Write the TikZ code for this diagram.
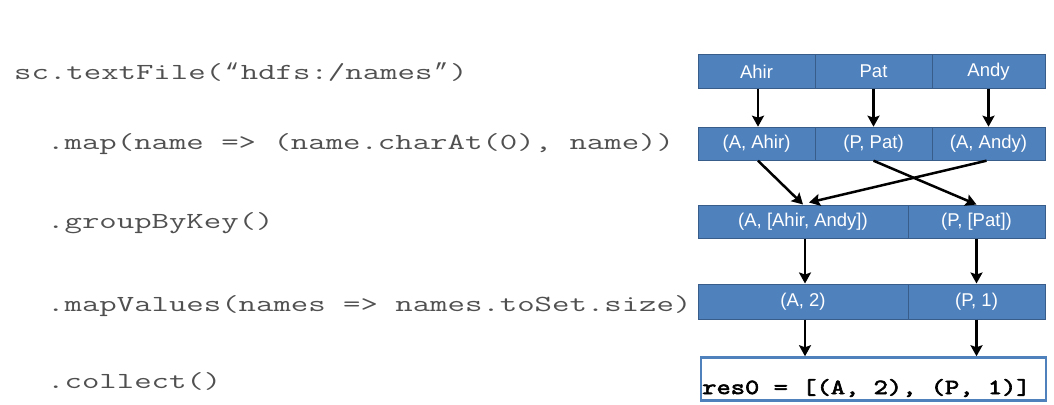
\documentclass[tikz,border=0pt]{standalone}
\usepackage{fontspec}
\setmainfont{Liberation Sans}
\newfontfamily\codefont[FakeStretch=1.47]{Latin Modern Mono}
\newfontfamily\quotefont{Liberation Mono}
\newfontfamily\resfont[FakeStretch=1.29,FakeBold=3]{Latin Modern Mono}
\newcommand{\codeq}[1]{\makebox[17.75pt]{\quotefont #1}}
\usetikzlibrary{arrows.meta}
\definecolor{cellblue}{RGB}{79,129,189}
\definecolor{cellborder}{RGB}{56,93,138}
\definecolor{codegray}{RGB}{80,80,80}
\begin{document}
\begin{tikzpicture}[x=1pt,y=-1pt,
  cell/.style={draw=cellborder,fill=cellblue,line width=1pt,inner sep=0pt,
    minimum height=33pt,text=white,font=\fontsize{18.5}{18.5}\selectfont},
  code/.style={anchor=base west,inner sep=0pt,text=codegray,
    font=\codefont\fontsize{23}{23}\selectfont},
  flow/.style={draw=black,line width=2.5pt,-{Stealth[length=11pt,width=12pt,inset=2pt]}}]
\useasboundingbox[fill=white] (0,0) rectangle (1054,404);

% code lines
\node[code] (t1) at (14,79) {sc.textFile(\codeq{“}hdfs:/names\codeq{”})};
\node[code] (t2) at (47,149) {.map(name => (name.charAt(0), name))};
\node[code] (t3) at (47,228) {.groupByKey()};
\node[code] (t4) at (47,311) {.mapValues(names => names.toSet.size)};
\node[code] (t5) at (47,388) {.collect()};

% row 1
\node[cell,minimum width=117pt] (a1) at (756.5,71.5) {Ahir};
\node[cell,minimum width=117pt] (b1) at (873.5,71.5) {Pat};
\node[cell,minimum width=113pt] (c1) at (988.5,71.5) {Andy};
% row 2
\node[cell,minimum width=117pt] (a2) at (756.5,143.7) {(A, Ahir)};
\node[cell,minimum width=117pt] (b2) at (873.5,143.7) {(P, Pat)};
\node[cell,minimum width=113pt] (c2) at (988.5,143.7) {(A, Andy)};
% row 3
\node[cell,minimum width=210pt] (l3) at (803,221.5) {(A, [Ahir, Andy])};
\node[cell,minimum width=137pt] (r3) at (976.5,221.5) {(P, [Pat])};
% row 4
\node[cell,minimum width=210pt,minimum height=35pt] (l4) at (803,301.5) {(A, 2)};
\node[cell,minimum width=137pt,minimum height=35pt] (r4) at (976.5,301.5) {(P, 1)};
% row 5
\node[draw=cellblue,line width=2.5pt,fill=white,inner sep=0pt,
  minimum width=345pt,minimum height=43pt] (res) at (873.5,379) {};
\node[anchor=base west,inner sep=0pt,font=\resfont\fontsize{21.5}{21.5}\selectfont] (restext) at (702,394) {res0 = [(A, 2), (P, 1)]};

% arrows
\draw[flow] ([xshift=1.5pt]a1.south) -- ([xshift=1.5pt]a2.north);
\draw[flow] (b1.south) -- (b2.north);
\draw[flow] (c1.south) -- (c2.north);
\draw[flow] ([xshift=1.5pt]a2.south) -- (l3.north);
\draw[flow] (b2.south) -- (r3.north);
\draw[flow] ([xshift=-2pt]c2.south) -- ([xshift=6pt,yshift=2pt]l3.north);
\draw[flow] ([xshift=2pt]l3.south) -- ([xshift=2pt]l4.north);
\draw[flow] (r3.south) -- (r4.north);
\draw[flow] ([xshift=2pt]l4.south) -- ([xshift=2pt]l4.south |- res.north);
\draw[flow] (r4.south) -- (r4.south |- res.north);
\end{tikzpicture}
\end{document}
